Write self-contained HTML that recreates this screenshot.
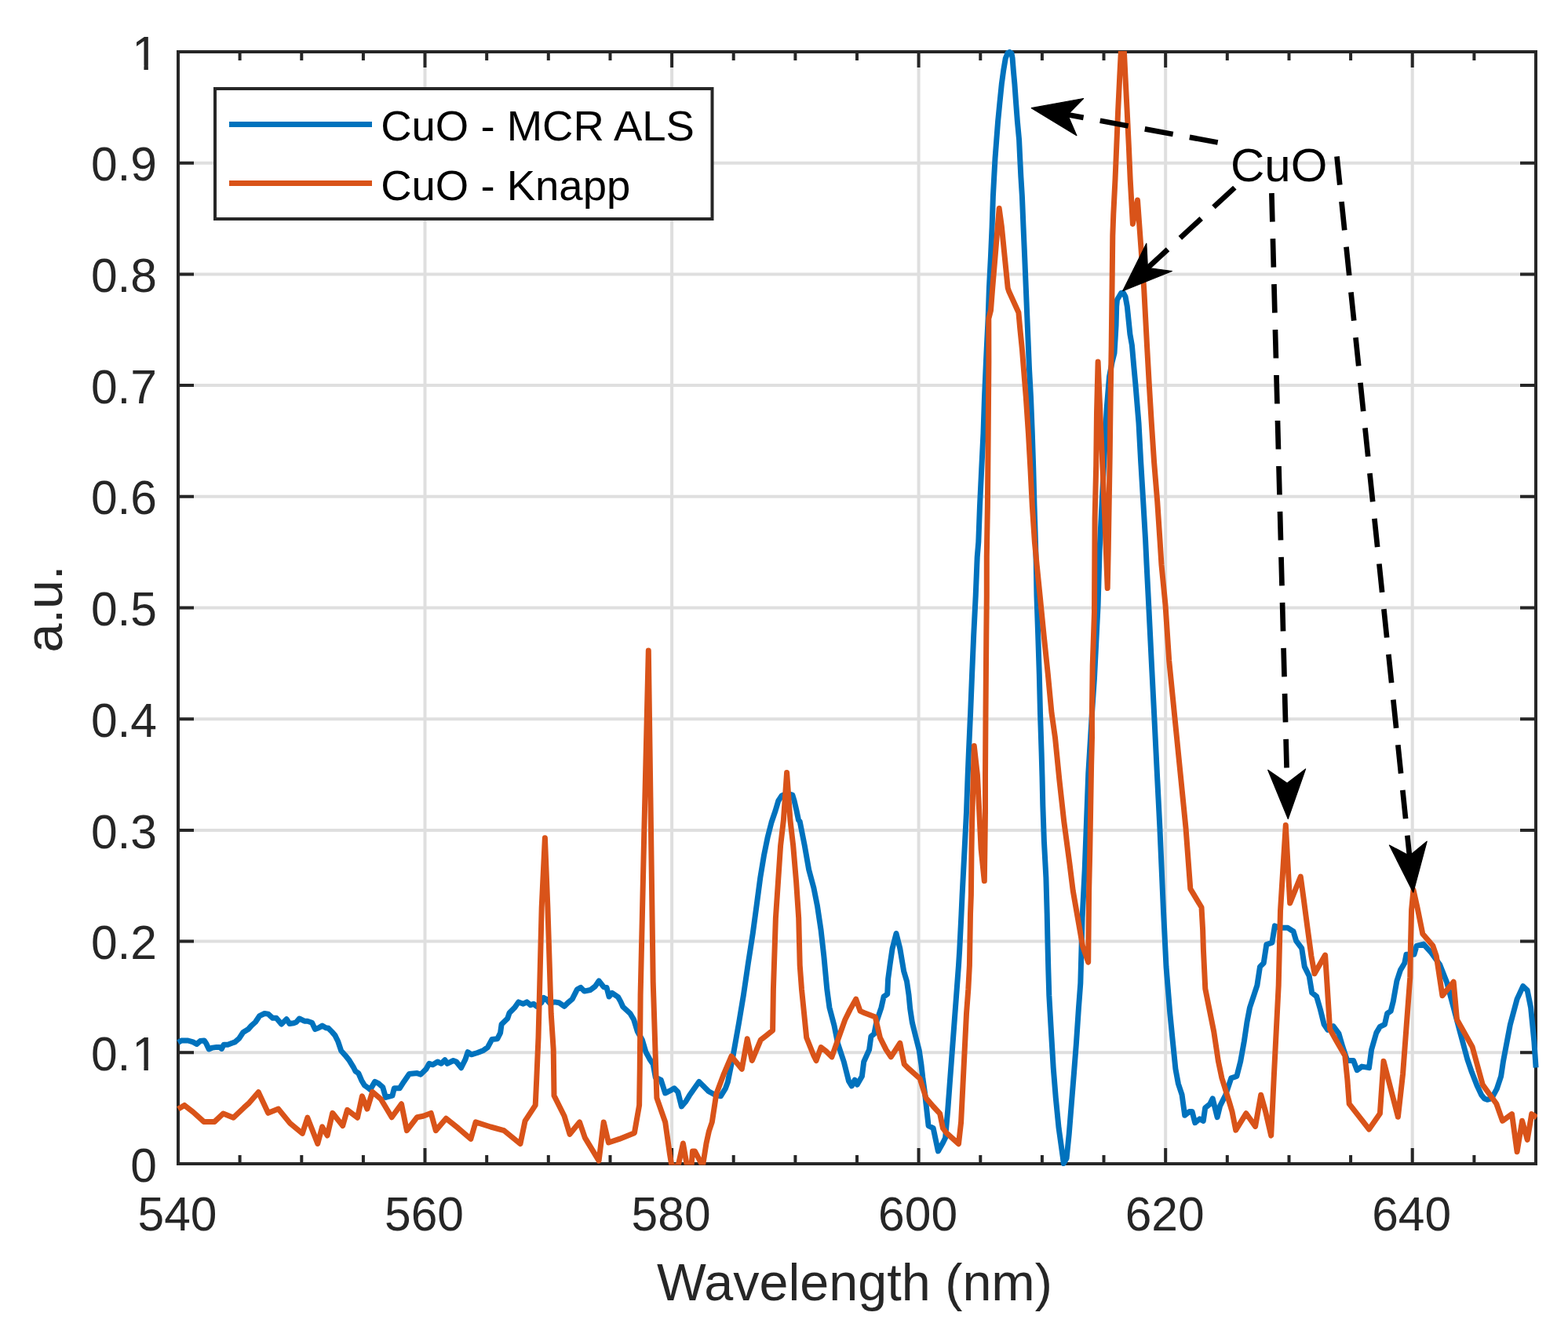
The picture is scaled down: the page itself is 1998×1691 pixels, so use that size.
<!DOCTYPE html>
<html><head><meta charset="utf-8"><title>CuO spectra</title>
<style>html,body{margin:0;padding:0;background:#fff;}body{width:1998px;height:1691px;overflow:hidden;}svg{display:block;}</style>
</head><body>
<svg width="1998" height="1691" viewBox="0 0 1998 1691">
<rect width="100%" height="100%" fill="#ffffff"/>
<path d="M541.5 66.0V1483.0M856.1 66.0V1483.0M1170.6 66.0V1483.0M1485.2 66.0V1483.0M1799.7 66.0V1483.0M227.0 1341.3H1957.0M227.0 1199.6H1957.0M227.0 1057.9H1957.0M227.0 916.2H1957.0M227.0 774.5H1957.0M227.0 632.8H1957.0M227.0 491.1H1957.0M227.0 349.4H1957.0M227.0 207.7H1957.0" stroke="#dfdfdf" stroke-width="4" fill="none"/>
<path d="M227.0 1483.0v-20M227.0 66.0v20M305.6 1483.0v-11M305.6 66.0v11M384.3 1483.0v-11M384.3 66.0v11M462.9 1483.0v-11M462.9 66.0v11M541.5 1483.0v-20M541.5 66.0v20M620.2 1483.0v-11M620.2 66.0v11M698.8 1483.0v-11M698.8 66.0v11M777.5 1483.0v-11M777.5 66.0v11M856.1 1483.0v-20M856.1 66.0v20M934.7 1483.0v-11M934.7 66.0v11M1013.4 1483.0v-11M1013.4 66.0v11M1092.0 1483.0v-11M1092.0 66.0v11M1170.6 1483.0v-20M1170.6 66.0v20M1249.3 1483.0v-11M1249.3 66.0v11M1327.9 1483.0v-11M1327.9 66.0v11M1406.5 1483.0v-11M1406.5 66.0v11M1485.2 1483.0v-20M1485.2 66.0v20M1563.8 1483.0v-11M1563.8 66.0v11M1642.5 1483.0v-11M1642.5 66.0v11M1721.1 1483.0v-11M1721.1 66.0v11M1799.7 1483.0v-20M1799.7 66.0v20M1878.4 1483.0v-11M1878.4 66.0v11M1957.0 1483.0v-11M1957.0 66.0v11M227.0 1483.0h20M1957.0 1483.0h-20M227.0 1341.3h20M1957.0 1341.3h-20M227.0 1199.6h20M1957.0 1199.6h-20M227.0 1057.9h20M1957.0 1057.9h-20M227.0 916.2h20M1957.0 916.2h-20M227.0 774.5h20M1957.0 774.5h-20M227.0 632.8h20M1957.0 632.8h-20M227.0 491.1h20M1957.0 491.1h-20M227.0 349.4h20M1957.0 349.4h-20M227.0 207.7h20M1957.0 207.7h-20M227.0 66.0h20M1957.0 66.0h-20" stroke="#262626" stroke-width="4" fill="none"/>
<rect x="227.0" y="66.0" width="1730.0" height="1417.0" fill="none" stroke="#262626" stroke-width="4" stroke-linejoin="miter"/>
<defs><clipPath id="one1"><rect x="100" y="1293.90" width="110" height="64.90"/><rect x="100" y="1358.70" width="71.5" height="8.5"/><rect x="183.4" y="1358.70" width="5.45" height="8.5"/></clipPath><clipPath id="one10"><rect x="100" y="18.60" width="110" height="64.90"/><rect x="100" y="83.40" width="71.5" height="8.5"/><rect x="183.4" y="83.40" width="5.45" height="8.5"/></clipPath></defs>
<g font-family="Liberation Sans, Arial, Helvetica, sans-serif" font-size="60.5" fill="#262626"><text x="226.0" y="1568" text-anchor="middle">540</text><text x="540.5" y="1568" text-anchor="middle">560</text><text x="855.1" y="1568" text-anchor="middle">580</text><text x="1169.6" y="1568" text-anchor="middle">600</text><text x="1484.2" y="1568" text-anchor="middle">620</text><text x="1798.7" y="1568" text-anchor="middle">640</text><text x="200" y="1505.6" text-anchor="end">0</text><text x="201.9" y="1363.9" text-anchor="end" clip-path="url(#one1)">0.<tspan dx="1.9">1</tspan></text><text x="200" y="1222.2" text-anchor="end">0.2</text><text x="200" y="1080.5" text-anchor="end">0.3</text><text x="200" y="938.8" text-anchor="end">0.4</text><text x="200" y="797.1" text-anchor="end">0.5</text><text x="200" y="655.4" text-anchor="end">0.6</text><text x="200" y="513.7" text-anchor="end">0.7</text><text x="200" y="372.0" text-anchor="end">0.8</text><text x="200" y="230.3" text-anchor="end">0.9</text><text x="201.9" y="88.6" text-anchor="end" clip-path="url(#one10)">1</text></g>
<text font-family="Liberation Sans, Arial, Helvetica, sans-serif" font-size="66.5" fill="#262626" x="1089" y="1656.5" text-anchor="middle">Wavelength (nm)</text>
<text font-family="Liberation Sans, Arial, Helvetica, sans-serif" font-size="66.5" fill="#262626" text-anchor="middle" transform="translate(78.8 776) rotate(-90)">a.u.</text>
<defs><clipPath id="ob"><rect x="200" y="65" width="1759" height="1419.5"/></clipPath></defs>
<g fill="none" stroke-width="7.0" stroke-linejoin="round" stroke-linecap="butt">
<path d="M227.0 1328.5 L231.1 1326.0 L239.5 1326.0 L246.0 1327.9 L250.6 1330.5 L255.1 1326.6 L260.3 1326.0 L262.9 1329.9 L266.2 1337.0 L270.8 1335.1 L276.0 1334.4 L279.9 1334.4 L282.5 1336.4 L285.1 1331.2 L290.3 1331.2 L295.5 1329.2 L299.4 1327.9 L304.6 1323.4 L309.8 1315.5 L316.3 1311.6 L320.2 1307.1 L325.4 1302.5 L330.6 1294.7 L337.1 1291.5 L341.7 1292.1 L347.5 1297.3 L352.1 1297.3 L358.6 1305.1 L365.1 1298.6 L369.0 1304.5 L374.2 1303.8 L377.5 1302.5 L381.4 1298.0 L387.9 1301.2 L391.8 1301.2 L397.6 1303.2 L401.5 1311.6 L406.1 1309.7 L410.6 1307.1 L415.2 1309.7 L418.4 1310.3 L423.0 1314.9 L426.9 1319.4 L430.8 1327.3 L434.7 1339.0 L439.9 1344.8 L445.1 1351.3 L450.3 1359.8 L452.9 1365.0 L456.8 1367.6 L460.7 1376.7 L464.6 1383.2 L468.5 1385.8 L471.8 1388.4 L477.7 1378.4 L482.3 1380.7 L487.7 1385.3 L491.5 1398.4 L500.0 1396.1 L502.3 1386.8 L509.2 1386.8 L514.6 1378.4 L521.5 1368.4 L531.5 1367.6 L536.1 1369.1 L543.0 1362.2 L546.9 1355.3 L551.5 1356.8 L557.6 1353.0 L562.3 1355.3 L566.9 1350.7 L569.9 1355.3 L577.6 1351.5 L581.5 1353.0 L587.6 1360.7 L593.0 1349.9 L596.1 1340.7 L600.7 1343.8 L608.4 1341.5 L616.1 1338.4 L621.4 1334.6 L626.8 1324.6 L633.8 1323.8 L637.6 1316.1 L639.1 1305.3 L646.8 1297.7 L649.1 1290.7 L656.0 1283.8 L660.7 1276.9 L666.8 1279.2 L671.4 1276.9 L676.0 1280.7 L679.9 1279.2 L683.7 1282.3 L689.9 1277.7 L692.9 1271.5 L696.0 1273.1 L700.6 1278.4 L706.8 1276.9 L712.2 1277.7 L719.1 1282.3 L723.7 1277.7 L729.2 1273.1 L735.4 1260.8 L740.0 1258.4 L744.6 1263.1 L752.3 1261.5 L758.4 1256.9 L763.1 1250.0 L769.2 1257.7 L773.0 1258.4 L776.1 1270.0 L780.0 1265.4 L787.7 1270.7 L790.7 1276.1 L793.8 1283.0 L803.0 1291.5 L807.6 1299.2 L812.3 1314.6 L818.4 1325.3 L823.0 1340.7 L827.6 1349.2 L832.2 1356.1 L835.3 1373.0 L842.2 1376.1 L847.6 1393.0 L853.8 1389.9 L859.1 1386.8 L863.8 1391.4 L868.4 1409.9 L873.8 1403.7 L878.4 1396.1 L890.7 1378.4 L903.0 1390.7 L909.9 1394.5 L918.3 1396.8 L924.5 1386.8 L927.4 1378.7 L934.5 1343.2 L941.6 1303.0 L947.5 1267.5 L953.4 1227.2 L959.3 1189.3 L964.1 1153.8 L968.8 1118.3 L973.5 1089.9 L978.3 1066.3 L983.0 1048.0 L988.1 1033.0 L991.8 1020.5 L996.1 1013.9 L1003.0 1011.0 L1009.8 1013.1 L1012.1 1020.5 L1015.0 1033.0 L1017.5 1045.0 L1019.2 1046.9 L1025.3 1077.6 L1030.7 1108.4 L1036.9 1131.4 L1041.5 1154.5 L1046.1 1185.3 L1049.9 1219.1 L1053.8 1260.8 L1056.9 1283.8 L1063.0 1306.9 L1067.6 1329.9 L1075.3 1353.0 L1081.5 1377.6 L1085.3 1383.8 L1089.2 1376.1 L1092.2 1382.2 L1098.4 1371.5 L1100.7 1353.0 L1107.6 1337.6 L1109.9 1320.7 L1113.8 1317.6 L1116.8 1302.3 L1123.0 1283.8 L1126.1 1270.0 L1130.7 1266.9 L1131.6 1247.6 L1134.2 1228.1 L1137.1 1208.6 L1142.0 1189.5 L1146.8 1208.6 L1151.7 1237.8 L1155.5 1250.5 L1158.0 1267.7 L1159.7 1285.5 L1162.4 1303.2 L1166.8 1321.0 L1171.3 1338.7 L1173.9 1356.4 L1175.7 1372.4 L1178.4 1391.9 L1180.0 1406.9 L1183.1 1434.6 L1189.2 1437.7 L1195.4 1466.9 L1201.5 1456.2 L1204.6 1450.0 L1207.7 1414.6 L1210.0 1383.8 L1212.3 1353.1 L1214.6 1322.3 L1216.9 1291.5 L1219.2 1260.8 L1221.5 1230.0 L1222.7 1210.8 L1225.0 1164.6 L1226.1 1140.0 L1229.1 1081.8 L1231.5 1034.6 L1233.2 987.3 L1234.4 958.3 L1236.6 908.6 L1238.6 859.0 L1240.7 809.3 L1243.2 759.7 L1245.2 710.0 L1246.8 690.8 L1248.5 644.6 L1250.7 598.5 L1253.0 552.0 L1254.5 506.0 L1256.5 460.0 L1257.2 445.0 L1259.1 406.0 L1260.4 367.0 L1262.4 328.0 L1264.1 289.0 L1265.4 250.0 L1266.7 225.7 L1268.0 202.0 L1269.8 178.3 L1271.6 154.7 L1273.9 131.0 L1276.3 107.3 L1278.7 89.6 L1281.3 74.2 L1284.0 67.5 L1286.5 66.4 L1289.0 68.0 L1290.1 74.2 L1291.3 89.6 L1292.9 107.3 L1294.6 131.0 L1296.4 154.7 L1298.6 178.3 L1299.7 202.0 L1300.9 225.7 L1302.4 250.0 L1304.0 289.0 L1305.7 328.0 L1307.3 367.0 L1308.9 406.0 L1310.5 445.0 L1311.5 470.0 L1313.5 506.0 L1315.3 552.0 L1316.8 598.5 L1318.0 644.6 L1319.5 690.8 L1320.3 720.0 L1321.0 759.7 L1322.7 809.3 L1324.3 859.0 L1325.5 908.6 L1327.1 958.3 L1328.0 989.9 L1328.8 1026.0 L1330.4 1072.0 L1332.9 1118.5 L1334.2 1164.6 L1335.2 1210.8 L1335.8 1235.0 L1336.8 1268.4 L1339.9 1322.3 L1342.2 1360.7 L1345.3 1399.1 L1349.1 1437.6 L1354.5 1476.0 L1355.3 1482.5 L1359.1 1476.0 L1362.2 1445.3 L1365.3 1406.8 L1368.4 1368.4 L1371.4 1329.9 L1374.5 1283.8 L1376.8 1253.1 L1379.1 1169.9 L1382.2 1108.4 L1384.5 1046.9 L1386.8 985.4 L1391.4 909.9 L1394.5 863.8 L1396.8 817.6 L1399.1 771.5 L1401.1 701.3 L1404.1 641.0 L1407.2 580.7 L1410.2 520.4 L1413.5 480.0 L1417.0 462.0 L1420.0 450.0 L1421.2 430.0 L1422.1 414.0 L1422.7 390.5 L1423.5 382.0 L1428.6 373.5 L1431.3 373.0 L1434.0 378.0 L1436.3 390.5 L1438.1 408.2 L1439.9 425.9 L1442.4 440.0 L1444.6 465.0 L1446.9 489.7 L1451.0 539.3 L1453.7 589.0 L1456.7 638.7 L1459.6 688.3 L1461.1 720.0 L1463.7 771.0 L1467.2 842.0 L1470.8 913.0 L1474.3 984.0 L1477.9 1055.0 L1482.5 1161.0 L1486.0 1231.9 L1490.8 1291.1 L1494.3 1326.6 L1497.9 1362.1 L1501.4 1381.0 L1506.1 1395.2 L1509.7 1421.2 L1515.6 1416.5 L1519.1 1416.5 L1522.7 1430.7 L1528.6 1425.9 L1533.3 1428.3 L1535.7 1411.7 L1541.6 1407.0 L1545.2 1399.9 L1551.1 1423.6 L1554.6 1409.4 L1561.7 1395.2 L1568.8 1373.9 L1575.9 1371.5 L1580.7 1352.6 L1585.4 1326.6 L1588.9 1302.9 L1592.5 1284.0 L1597.2 1269.8 L1601.9 1255.6 L1605.5 1231.9 L1610.2 1227.2 L1613.8 1203.6 L1620.9 1201.2 L1624.4 1179.9 L1630.3 1182.3 L1641.0 1182.3 L1648.1 1187.0 L1651.6 1198.8 L1658.7 1208.3 L1662.3 1231.9 L1668.2 1243.8 L1671.7 1265.1 L1677.6 1269.8 L1682.4 1286.4 L1687.1 1305.3 L1691.8 1312.4 L1698.9 1307.6 L1706.0 1317.1 L1710.8 1333.7 L1715.5 1347.9 L1716.9 1351.4 L1724.6 1351.4 L1729.2 1363.7 L1735.3 1359.1 L1744.5 1360.6 L1747.6 1337.6 L1753.8 1316.1 L1758.4 1308.4 L1764.5 1305.3 L1767.6 1291.5 L1772.2 1288.4 L1775.3 1276.1 L1779.9 1250.0 L1784.5 1236.1 L1789.8 1227.2 L1792.0 1216.2 L1801.9 1216.2 L1805.1 1205.3 L1813.9 1203.1 L1823.7 1214.0 L1834.7 1229.3 L1843.4 1251.2 L1852.2 1284.0 L1860.9 1316.8 L1869.7 1349.6 L1875.4 1366.3 L1882.4 1384.1 L1887.8 1395.6 L1891.5 1400.0 L1895.0 1401.3 L1898.5 1400.3 L1902.0 1397.4 L1907.3 1387.6 L1912.6 1371.7 L1915.6 1351.8 L1924.3 1305.9 L1933.1 1273.1 L1940.7 1256.7 L1946.2 1262.1 L1950.6 1284.0 L1954.9 1327.7 L1957.1 1360.5" stroke="#0072bd"/>
<path d="M227.0 1413.2 L235.0 1408.4 L246.0 1417.0 L259.7 1429.4 L273.4 1429.4 L284.4 1419.0 L297.4 1424.2 L311.1 1411.2 L317.6 1405.3 L329.3 1391.7 L341.7 1418.3 L354.7 1413.1 L369.6 1431.4 L385.3 1444.4 L391.8 1424.2 L404.8 1457.4 L410.6 1435.9 L417.1 1447.0 L423.7 1418.3 L436.7 1434.6 L442.5 1414.4 L455.5 1424.2 L461.4 1396.9 L467.9 1413.1 L474.6 1391.4 L485.4 1400.7 L499.2 1423.7 L511.5 1406.8 L518.4 1440.6 L531.5 1423.7 L539.2 1422.2 L549.2 1418.4 L555.3 1440.6 L568.4 1425.3 L583.8 1437.6 L599.9 1451.4 L606.1 1429.9 L625.3 1436.0 L642.2 1440.6 L663.0 1457.6 L669.1 1428.3 L682.2 1408.4 L683.7 1376.1 L686.0 1322.3 L687.6 1260.8 L690.2 1156.4 L694.4 1067.7 L697.9 1156.4 L702.2 1291.5 L705.2 1337.6 L706.0 1396.1 L719.1 1422.2 L726.0 1445.3 L738.5 1429.9 L745.4 1449.9 L763.1 1479.1 L769.2 1429.9 L775.4 1456.0 L789.2 1451.4 L808.4 1443.7 L814.6 1408.4 L815.3 1360.7 L816.1 1268.4 L820.7 1064.3 L826.3 829.0 L829.6 1064.3 L832.2 1251.5 L836.9 1399.1 L847.7 1430.0 L853.5 1471.0 L856.0 1486.0 L864.0 1486.0 L870.4 1457.0 L875.5 1486.0 L881.0 1486.0 L882.5 1467.0 L885.5 1467.0 L895.4 1486.0 L900.0 1457.0 L903.4 1441.5 L907.3 1430.0 L912.8 1393.9 L922.4 1368.3 L931.9 1346.0 L945.3 1362.2 L952.2 1323.8 L958.3 1351.5 L969.2 1325.3 L976.9 1319.2 L984.6 1313.0 L985.4 1260.8 L988.4 1169.9 L991.5 1123.8 L994.6 1077.6 L998.4 1045.0 L1002.6 984.4 L1006.9 1045.0 L1010.7 1077.6 L1014.6 1123.8 L1017.7 1169.9 L1019.2 1230.0 L1021.5 1260.8 L1024.6 1291.5 L1027.7 1322.3 L1036.9 1345.3 L1040.0 1351.5 L1046.1 1334.6 L1052.3 1339.2 L1059.9 1346.9 L1067.6 1325.3 L1076.9 1299.2 L1083.0 1286.9 L1090.7 1273.1 L1096.1 1288.4 L1101.5 1290.7 L1115.3 1296.1 L1121.4 1322.3 L1129.1 1337.6 L1135.3 1346.9 L1146.8 1329.2 L1152.2 1356.1 L1158.3 1362.2 L1172.2 1374.5 L1180.0 1399.2 L1189.2 1410.0 L1197.7 1419.2 L1201.5 1437.7 L1206.2 1443.8 L1221.5 1457.7 L1224.6 1430.0 L1226.9 1383.8 L1229.2 1337.7 L1231.5 1291.5 L1233.8 1260.8 L1235.4 1230.0 L1236.5 1164.6 L1237.4 1140.0 L1238.0 1081.8 L1238.6 1046.4 L1241.3 950.6 L1245.4 987.3 L1247.8 1034.6 L1250.1 1081.8 L1254.3 1122.6 L1254.9 1081.8 L1255.5 1034.6 L1255.5 987.3 L1255.8 940.0 L1256.0 908.6 L1256.4 859.0 L1256.8 809.3 L1257.3 759.7 L1257.3 710.0 L1257.6 690.0 L1258.4 644.6 L1259.2 552.0 L1259.9 460.0 L1259.8 406.0 L1262.5 395.7 L1264.7 367.0 L1268.0 328.0 L1271.2 289.0 L1273.2 265.6 L1276.4 289.0 L1280.3 328.0 L1284.2 367.0 L1285.5 371.0 L1297.9 398.3 L1299.8 419.1 L1302.4 445.0 L1304.0 465.0 L1307.3 506.0 L1310.4 552.0 L1313.0 598.5 L1315.3 644.6 L1318.4 690.8 L1321.2 720.0 L1325.2 759.7 L1330.1 809.3 L1335.3 859.0 L1340.0 908.6 L1344.5 940.0 L1349.8 993.2 L1355.7 1046.3 L1362.8 1099.5 L1367.2 1134.9 L1373.4 1170.4 L1379.6 1205.8 L1386.7 1226.2 L1387.6 1134.9 L1388.8 1081.8 L1389.7 1028.6 L1390.6 975.4 L1391.5 940.0 L1391.4 909.9 L1392.2 848.4 L1394.5 780.0 L1395.1 661.0 L1396.7 592.8 L1397.5 526.4 L1399.1 461.1 L1402.1 530.5 L1405.2 600.8 L1408.2 671.2 L1411.2 749.5 L1412.2 701.3 L1413.2 641.0 L1414.2 580.7 L1415.2 500.3 L1416.2 440.0 L1417.8 300.0 L1418.8 272.4 L1421.0 228.9 L1422.8 185.4 L1424.6 142.0 L1426.7 98.5 L1430.4 25.0 L1434.0 98.5 L1436.2 142.0 L1438.3 185.4 L1440.2 228.9 L1443.4 285.4 L1449.5 255.0 L1457.7 367.9 L1461.5 440.0 L1464.3 489.7 L1467.3 539.3 L1470.6 589.0 L1474.7 638.7 L1478.0 688.3 L1480.0 720.0 L1485.0 771.0 L1489.7 842.0 L1496.8 913.0 L1503.9 984.0 L1511.0 1055.0 L1516.8 1132.6 L1531.0 1156.2 L1532.6 1184.6 L1533.4 1210.0 L1535.8 1260.0 L1541.3 1287.5 L1546.8 1315.0 L1552.3 1351.7 L1556.9 1373.7 L1566.5 1404.6 L1570.0 1416.5 L1574.7 1440.1 L1587.8 1418.8 L1599.6 1435.4 L1606.7 1395.2 L1612.6 1416.5 L1619.7 1447.2 L1623.2 1373.9 L1625.6 1326.6 L1629.2 1255.6 L1631.5 1161.0 L1638.3 1051.5 L1643.7 1150.9 L1657.3 1117.1 L1661.4 1147.3 L1666.1 1182.8 L1670.9 1218.3 L1675.0 1240.7 L1688.6 1217.1 L1691.0 1253.7 L1694.6 1311.5 L1703.1 1326.8 L1713.8 1345.3 L1716.9 1376.0 L1719.2 1406.7 L1744.5 1439.0 L1758.4 1419.0 L1763.0 1352.2 L1781.4 1423.3 L1787.6 1368.3 L1792.2 1306.8 L1796.8 1245.4 L1797.4 1206.4 L1798.6 1159.1 L1801.0 1134.0 L1806.2 1157.2 L1812.8 1190.0 L1825.9 1205.3 L1830.3 1218.4 L1837.9 1268.7 L1852.2 1251.2 L1856.5 1299.3 L1876.2 1334.3 L1889.3 1382.4 L1906.8 1406.5 L1914.5 1428.3 L1926.5 1419.6 L1933.1 1467.7 L1939.6 1428.3 L1946.2 1452.4 L1951.7 1419.6 L1958.2 1424.0" stroke="#d95319" clip-path="url(#ob)"/>
</g>
<rect x="274" y="113" width="633.5" height="166" fill="#ffffff" stroke="#262626" stroke-width="4"/>
<path d="M292 158.5H474" stroke="#0072bd" stroke-width="7.0"/>
<path d="M292 233.5H474" stroke="#d95319" stroke-width="7.0"/>
<g font-family="Liberation Sans, Arial, Helvetica, sans-serif" font-size="54.5" fill="#000000"><text x="485.2" y="178.8">CuO - MCR ALS</text><text x="485.2" y="254.6">CuO - Knapp</text></g>
<text font-family="Liberation Sans, Arial, Helvetica, sans-serif" font-size="60" fill="#000000" x="1568" y="230.8">CuO</text>
<path d="M1551.7 181.5L1355.6 145.3" stroke="#000" stroke-width="6.7" stroke-dasharray="36.5 21.5" fill="none"/><path d="M1314.3 137.7L1380.6 125.5L1360.5 146.2L1371.9 172.7Z" fill="#000" stroke="#000" stroke-width="1.2" stroke-linejoin="round"/>
<path d="M1573.3 239.1L1458.7 344.8" stroke="#000" stroke-width="6.7" stroke-dasharray="36.5 21.5" fill="none"/><path d="M1430.8 370.6L1460.8 310.2L1462.4 341.4L1493.4 345.5Z" fill="#000" stroke="#000" stroke-width="1.2" stroke-linejoin="round"/>
<path d="M1620.4 246.1L1640.2 1003.0" stroke="#000" stroke-width="6.7" stroke-dasharray="36.5 21.5" fill="none"/><path d="M1641.3 1043.5L1615.7 981.2L1640.1 998.0L1663.6 979.9Z" fill="#000" stroke="#000" stroke-width="1.2" stroke-linejoin="round"/>
<path d="M1703.5 199.3L1796.5 1095.4" stroke="#000" stroke-width="6.7" stroke-dasharray="36.5 21.5" fill="none"/><path d="M1800.8 1137.2L1770.4 1077.0L1796.0 1090.5L1818.2 1072.1Z" fill="#000" stroke="#000" stroke-width="1.2" stroke-linejoin="round"/>
</svg>
</body></html>
